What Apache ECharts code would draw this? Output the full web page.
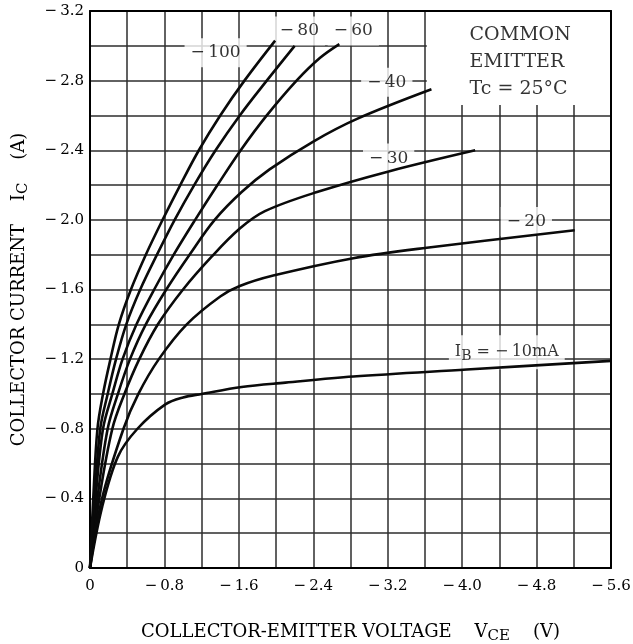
<!DOCTYPE html>
<html><head><meta charset="utf-8">
<script src="https://cdn.jsdelivr.net/npm/echarts@6/dist/echarts.min.js"></script>
<style>html,body{margin:0;padding:0;background:#fff}#c{width:633px;height:644px}</style>
</head><body><div id="c"></div>
<script>
// Collector characteristics: [VCE (V), IC (A)]
const ib10  = [[0,0],[-0.13,-0.35],[-0.30,-0.64],[-0.51,-0.80],[-0.81,-0.94],[-1.00,-0.98],[-1.20,-1.00],[-1.63,-1.04],[-2.10,-1.065],[-2.83,-1.10],[-4.05,-1.14],[-5.60,-1.19]];
const ib20  = [[0,0],[-0.13,-0.40],[-0.36,-0.80],[-0.52,-1.00],[-0.74,-1.20],[-1.04,-1.40],[-1.40,-1.56],[-1.61,-1.62],[-1.97,-1.68],[-2.83,-1.78],[-3.62,-1.84],[-5.21,-1.94]];
const ib30  = [[0,0],[-0.10,-0.40],[-0.24,-0.80],[-0.37,-1.00],[-0.53,-1.20],[-0.73,-1.40],[-1.00,-1.60],[-1.31,-1.79],[-1.61,-1.95],[-1.88,-2.05],[-2.44,-2.16],[-3.22,-2.28],[-4.14,-2.40]];
const ib40  = [[0,0],[-0.08,-0.40],[-0.19,-0.80],[-0.30,-1.00],[-0.43,-1.20],[-0.60,-1.40],[-0.82,-1.60],[-1.07,-1.80],[-1.34,-2.00],[-1.63,-2.16],[-1.93,-2.29],[-2.40,-2.45],[-2.87,-2.58],[-3.67,-2.75]];
const ib60  = [[0,0],[-0.06,-0.40],[-0.14,-0.80],[-0.24,-1.00],[-0.35,-1.20],[-0.50,-1.40],[-0.69,-1.60],[-0.90,-1.80],[-1.13,-2.00],[-1.37,-2.20],[-1.62,-2.40],[-1.90,-2.60],[-2.22,-2.80],[-2.47,-2.93],[-2.68,-3.01]];
const ib80  = [[0,0],[-0.05,-0.40],[-0.11,-0.80],[-0.19,-1.00],[-0.28,-1.20],[-0.39,-1.40],[-0.54,-1.60],[-0.72,-1.80],[-0.91,-2.00],[-1.12,-2.20],[-1.35,-2.40],[-1.61,-2.60],[-1.90,-2.80],[-2.20,-3.00]];
const ib100 = [[0,0],[-0.035,-0.40],[-0.08,-0.80],[-0.14,-1.00],[-0.22,-1.20],[-0.31,-1.40],[-0.44,-1.60],[-0.60,-1.80],[-0.78,-2.00],[-0.97,-2.20],[-1.17,-2.40],[-1.40,-2.60],[-1.66,-2.80],[-1.99,-3.03]];
const curves = [ib10, ib20, ib30, ib40, ib60, ib80, ib100];

// curve labels: [VCE, IC, text]
const curveLabels = [
  [-1.35, -2.96, '\u2212\u2009100'],
  [-2.25, -3.085, '\u2212\u200980'],
  [-2.83, -3.085, '\u2212\u200960'],
  [-3.19, -2.79, '\u2212\u200940'],
  [-3.21, -2.355, '\u2212\u200930'],
  [-4.69, -1.99, '\u2212\u200920'],
  [-4.48, -1.24, '{t|I}{s|B}{t| = \u2212\u200910mA}']
];
const noteLines = ['COMMON', 'EMITTER', 'Tc = 25\u00B0C'];
const notePos = [-4.08, -2.907];
const noteBox = [[-3.62, -3.2], [-5.6, -2.66]];

const FF = '"DejaVu Serif", "Liberation Serif", serif';
const INK = '#000';
const GRIDC = '#2e2e2e';
const fmt = v => Math.abs(v) < 1e-9 ? '0' : '\u2212\u2009' + Math.abs(v).toFixed(1);

const chart = echarts.init(document.getElementById('c'), null, {renderer: 'canvas'});
const lineSeries = curves.map(d => ({
  type: 'line', data: d, symbol: 'none', smooth: 0.35, z: 3,
  lineStyle: {color: '#0a0a0a', width: 2.6}, silent: true
}));

const richSub = {
  t: {fontFamily: FF, fontSize: 16, color: INK, lineHeight: 22, verticalAlign: 'middle'},
  s: {fontFamily: FF, fontSize: 14, color: INK, lineHeight: 22, verticalAlign: 'bottom', padding: [10, 0, 0, 0]}
};
const richName = {
  t: {fontFamily: FF, fontSize: 18, color: INK, lineHeight: 24, verticalAlign: 'middle'},
  s: {fontFamily: FF, fontSize: 15, color: INK, lineHeight: 24, verticalAlign: 'bottom', padding: [11, 0, 0, 0]}
};

const option = {
  animation: false,
  backgroundColor: '#fff',
  grid: {left: 90, right: 22, top: 11, bottom: 76, containLabel: false, outerBoundsMode: 'none'},
  xAxis: [{
    type: 'value', min: -5.6, max: 0, interval: 0.8, inverse: true,
    axisLine: {show: true, onZero: false, lineStyle: {color: '#000', width: 2}},
    axisTick: {show: false},
    splitLine: {show: true, lineStyle: {color: GRIDC, width: 1.5}},
    minorTick: {show: false, splitNumber: 2},
    minorSplitLine: {show: true, lineStyle: {color: GRIDC, width: 1.5}},
    axisLabel: {formatter: fmt, fontFamily: FF, fontSize: 15, color: INK, margin: 11},
    name: '{t|COLLECTOR-EMITTER VOLTAGE    V}{s|CE}{t|    (V)}',
    nameLocation: 'middle', nameGap: 52,
    nameTextStyle: {fontFamily: FF, fontSize: 18, color: INK, rich: richName}
  }, {
    type: 'value', min: -5.6, max: 0, inverse: true, position: 'top', z: 6,
    axisLine: {show: true, onZero: false, lineStyle: {color: '#000', width: 2}},
    axisTick: {show: false}, axisLabel: {show: false}, splitLine: {show: false}
  }],
  yAxis: [{
    type: 'value', min: -3.2, max: 0, interval: 0.4, inverse: true,
    axisLine: {show: true, onZero: false, lineStyle: {color: '#000', width: 2}},
    axisTick: {show: false},
    splitLine: {show: true, lineStyle: {color: GRIDC, width: 1.5}},
    minorTick: {show: false, splitNumber: 2},
    minorSplitLine: {show: true, lineStyle: {color: GRIDC, width: 1.5}},
    axisLabel: {formatter: fmt, fontFamily: FF, fontSize: 15, color: INK, margin: 6},
    name: '{t|COLLECTOR CURRENT    I}{s|C}{t|    (A)}',
    nameLocation: 'middle', nameGap: 59, nameRotate: 90,
    nameTextStyle: {fontFamily: FF, fontSize: 18, color: INK, rich: richName}
  }, {
    type: 'value', min: -3.2, max: 0, inverse: true, position: 'right', z: 6,
    axisLine: {show: true, onZero: false, lineStyle: {color: '#000', width: 2}},
    axisTick: {show: false}, axisLabel: {show: false}, splitLine: {show: false}
  }],
  series: [
    {
      type: 'scatter', z: 1, symbolSize: 0, silent: true,
      data: curveLabels.map(l => ({
        value: [l[0], l[1]],
        label: {show: true, position: 'inside', formatter: l[2],
          fontFamily: FF, fontSize: 17, color: INK, backgroundColor: '#fff',
          padding: [6, 6, 6, 6], rich: richSub}
      })).concat([{
        value: notePos,
        label: {show: true, position: 'right', distance: 0, formatter: noteLines.join('\n'),
          fontFamily: FF, fontSize: 19, color: INK, lineHeight: 27, align: 'left'}
      }]),
      markArea: {silent: true, itemStyle: {color: '#fff', opacity: 1},
        data: [[{coord: noteBox[0]}, {coord: noteBox[1]}]]}
    }
  ].concat(lineSeries)
};
chart.setOption(option);
</script></body></html>
